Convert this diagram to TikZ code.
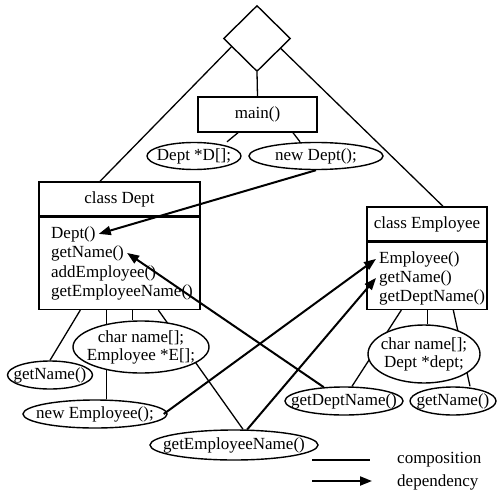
\documentclass[tikz,border=0pt]{standalone}
\usepackage{fontspec}
\setmainfont{Liberation Serif}
\usetikzlibrary{shapes.geometric,arrows.meta,calc,backgrounds}
\newcommand\zw[1]{\makebox[0pt]{#1}}
\begin{document}
\begin{tikzpicture}[x=1pt,y=-1pt,
  every node/.style={font=\fontsize{17}{18}\selectfont},
  box/.style={draw, line width=1.4pt, fill=white, inner sep=0pt},
  ell/.style={draw, ellipse, line width=1.4pt, fill=white, inner sep=0pt, align=center},
  meth/.style={anchor=base west, inner xsep=3pt, inner ysep=0pt},
  comp/.style={line width=1.3pt},
  dep/.style={line width=2pt, -{Triangle[length=12pt,width=9pt]}},
]
\useasboundingbox (0,0) rectangle (502,497);
% top
\node[box, diamond, minimum width=67pt, minimum height=66pt] (dia) at (257,38.5) {};
\node[box, minimum width=119pt, minimum height=35pt] (main) at (257.5,114.5) {main()};
\node[ell, minimum width=94pt, minimum height=27pt] (dd) at (194,156) {\zw{Dept *D[];}};
\node[ell, minimum width=134pt, minimum height=27pt] (nd) at (316,156) {\zw{new Dept();}};
% class Dept
\node[box, minimum width=161pt, minimum height=34pt] (deptH) at (119.5,199) {class Dept};
\node[box, minimum width=161pt, minimum height=92pt, anchor=north] (deptB) at (deptH.south) {};
\node[meth] (dm1) at (48,238) {Dept()};
\node[meth] (dm2) at (48,257) {getName()};
\node[meth] (dm3) at (48,277) {addEmployee()};
\node[meth] (dm4) at (48,296) {getEmployeeName()};
% class Employee
\node[box, minimum width=120pt, minimum height=34pt] (empH) at (427,224) {class Employee};
\node[box, minimum width=120pt, minimum height=67pt, anchor=north] (empB) at (empH.south) {};
\node[meth] (em1) at (376,263) {Employee()};
\node[meth] (em2) at (376,282) {getName()};
\node[meth] (em3) at (376,301) {getDeptName()};
% Dept members
\node[ell, minimum width=136pt, minimum height=52pt] (ce) at (141,347) {\zw{char name[];}\\\zw{Employee *E[];}};
\node[ell, minimum width=85pt, minimum height=28pt] (gn1) at (50,375) {\zw{getName()}};
\node[ell, minimum width=144pt, minimum height=28pt] (ne) at (95,414) {\zw{new Employee();}};
\node[ell, minimum width=168pt, minimum height=30pt] (gen) at (234,445) {\zw{getEmployeeName()}};
% Employee members
\node[ell, minimum width=112pt, minimum height=58pt] (ce2) at (424,354) {\zw{char name[];}\\\zw{Dept *dept;}};
\node[ell, minimum width=118pt, minimum height=28pt] (gdn) at (344,401) {\zw{getDeptName()}};
\node[ell, minimum width=86pt, minimum height=28pt] (gn2) at (453,401) {\zw{getName()}};
% legend
\coordinate (lc1) at (312,460);
\coordinate (lc2) at (370,460);
\node[anchor=west, inner sep=0pt] (lct) at (397,460) {composition};
\coordinate (ld1) at (312,481);
\coordinate (ld2) at (372,481);
\node[anchor=west, inner sep=0pt] (ldt) at (397,482) {dependency};
% helper points on box bottoms
\coordinate (db2) at ([xshift=68pt]deptB.south west);
\coordinate (db3) at ([xshift=94pt]deptB.south west);
\coordinate (eb2) at ([xshift=61pt]empB.south west);
% composition lines
\begin{pgfonlayer}{background}
\draw[comp] ($(dia.west)!0.25!(dia.south)$) -- ([xshift=-19.5pt]deptH.north);
\draw[comp] ($(dia.east)!0.3!(dia.south)$) -- ([xshift=16pt]empH.north);
\draw[comp] (dia.south) -- (main.north);
\draw[comp] ([xshift=-19.5pt]main.south) -- ([xshift=33pt]dd.north);
\draw[comp] ([xshift=35.5pt]main.south) -- ([xshift=-16pt]nd.north);
\draw[comp] ([xshift=42pt]deptB.south west) -- (gn1.north);
\draw[comp] (db2) -- (db2 |- ne.north);
\draw[comp] (db3) -- (db3 |- ce.north);
\draw[comp] ([xshift=120pt]deptB.south west) -- ([xshift=9pt]gen.north);
\draw[comp] ([xshift=35pt]empB.south west) -- ([xshift=8pt]gdn.north);
\draw[comp] (eb2) -- (eb2 |- ce2.north);
\draw[comp] ([xshift=87pt]empB.south west) -- ([xshift=17pt]gn2.north);
\end{pgfonlayer}
% dependencies
\draw[dep] (nd.south) -- (dm1.east);
\draw[dep] (gdn) -- (dm2.east);
\draw[dep] ([xshift=-4pt]ne.east) -- (em1.west);
\draw[dep] (gen) -- (em2.west);
% legend lines
\draw[comp] (lc1) -- (lc2);
\draw[dep] (ld1) -- (ld2);
\end{tikzpicture}
\end{document}
